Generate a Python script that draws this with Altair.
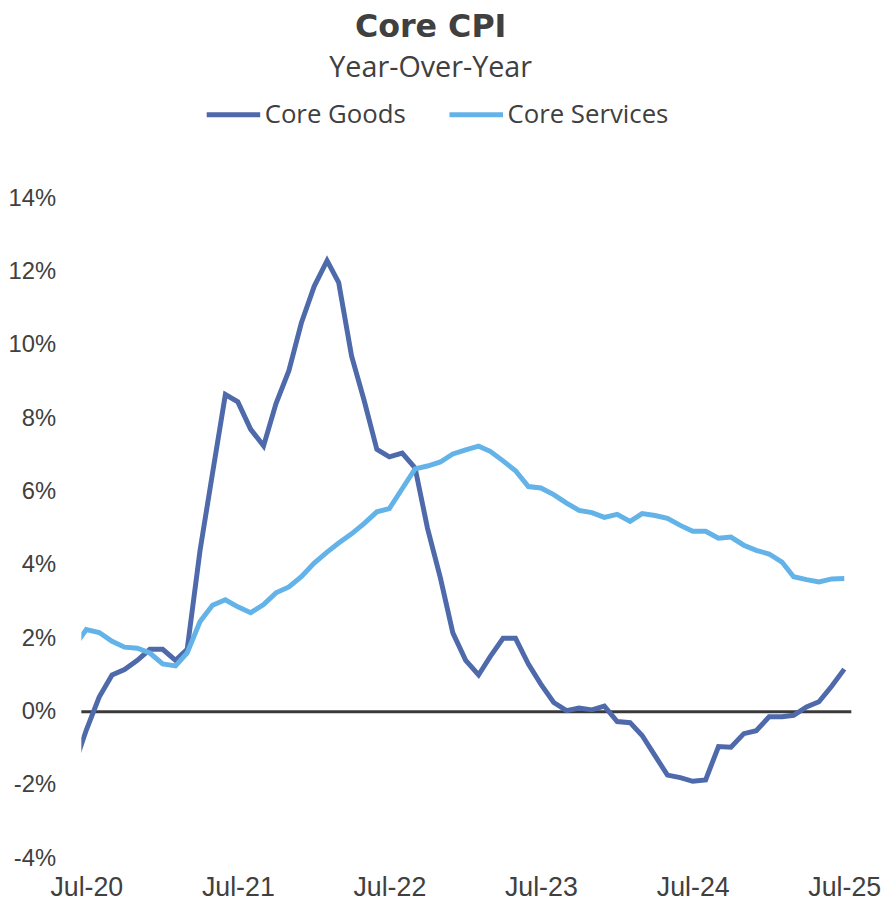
import altair as alt
import pandas as pd

# Monthly observations, Jun-2020 .. Jul-2025 (Jun-2020 is only partly visible at the left edge)
months = pd.date_range("2020-06-01", "2025-07-01", freq="MS").strftime("%Y-%m-%d").tolist()

core_goods = [
    -1.5,                                    # Jun-20
    -0.5, 0.4, 1.0, 1.15, 1.4, 1.7,          # Jul-Dec 20
    1.7, 1.4, 1.7, 4.4, 6.5, 8.65, 8.45, 7.7, 7.25, 8.4, 9.3, 10.6,      # 2021
    11.6, 12.3, 11.7, 9.7, 8.5, 7.15, 6.95, 7.05, 6.65, 5.0, 3.65, 2.15,  # 2022
    1.4, 1.0, 1.5, 2.0, 2.0, 1.3, 0.75, 0.25, 0.03, 0.1, 0.05, 0.15,     # 2023
    -0.27, -0.3, -0.65, -1.2, -1.73, -1.8, -1.9, -1.86, -0.95, -0.97, -0.6, -0.52,  # 2024
    -0.14, -0.14, -0.1, 0.13, 0.27, 0.7, 1.16,                          # 2025
]

core_services = [
    1.76,                                    # Jun-20
    2.24, 2.16, 1.92, 1.76, 1.73, 1.6,       # Jul-Dec 20
    1.3, 1.25, 1.6, 2.46, 2.9, 3.05, 2.86, 2.7, 2.92, 3.24, 3.4, 3.68,   # 2021
    4.05, 4.35, 4.6, 4.85, 5.13, 5.45, 5.54, 6.08, 6.62, 6.7, 6.81, 7.03,  # 2022
    7.14, 7.24, 7.1, 6.84, 6.57, 6.14, 6.1, 5.92, 5.69, 5.49, 5.43, 5.3,   # 2023
    5.38, 5.19, 5.4, 5.35, 5.27, 5.08, 4.92, 4.92, 4.73, 4.76, 4.54, 4.4,  # 2024
    4.3, 4.08, 3.68, 3.6, 3.54, 3.62, 3.63,                              # 2025
]

series_names = ["Core Goods", "Core Services"]
series_colors = ["#4E6AAB", "#63B3E8"]
y_ticks = [-4, -2, 0, 2, 4, 6, 8, 10, 12, 14]
x_tick_years = [2020, 2021, 2022, 2023, 2024, 2025]
zero_line = [0]

df = pd.DataFrame({
    "date": months + months,
    "value": core_goods + core_services,
    "series": [series_names[0]] * len(months) + [series_names[1]] * len(months),
})

TEXT = "#404040"
FONT = "Open Sans"
TITLE_FONT = "DejaVu Sans"
AXIS_FONT = "Liberation Sans"

x_scale = alt.Scale(
    type="utc",
    domain=[alt.DateTime(year=2020, month=6, date=19, utc=True),
            alt.DateTime(year=2025, month=7, date=18, utc=True)],
)
y_scale = alt.Scale(domain=[-4, 14], nice=False, zero=False)

zero = alt.Chart(pd.DataFrame({"zero": zero_line})).mark_rule(
    color="#3A3A3A", strokeWidth=3
).encode(y=alt.Y("zero:Q", scale=y_scale))

lines = alt.Chart(df).mark_line(strokeWidth=5, clip=True).encode(
    x=alt.X(
        "date:T",
        scale=x_scale,
        axis=alt.Axis(
            title=None,
            values=[alt.DateTime(year=y, month=7, date=1, utc=True) for y in x_tick_years],
            labelExpr="utcFormat(datum.value, '%b-%y')",
            domain=False, ticks=False, tickSize=0, grid=False,
            labelPadding=17,
            labelFontSize=27, labelFont=AXIS_FONT, labelColor=TEXT,
        ),
    ),
    y=alt.Y(
        "value:Q",
        scale=y_scale,
        axis=alt.Axis(
            title=None,
            values=y_ticks,
            labelExpr="datum.value + '%'",
            domain=False, ticks=False, tickSize=0, grid=False,
            labelPadding=26,
            labelFontSize=24, labelFont=AXIS_FONT, labelColor=TEXT,
        ),
    ),
    color=alt.Color(
        "series:N",
        scale=alt.Scale(domain=series_names, range=series_colors),
        legend=alt.Legend(
            orient="none", legendX=124, legendY=-114, direction="horizontal",
            title=None, symbolType="stroke", symbolSize=2916, symbolStrokeWidth=5,
            labelFontSize=26, labelFont=FONT, labelColor=TEXT, labelOffset=2,
            labelLimit=400, columnPadding=33,
        ),
    ),
)

chart = alt.layer(zero, lines).properties(
    width=777,
    height=666,
    autosize=alt.AutoSizeParams(type="none"),
    padding={"left": 74, "top": 188, "right": 36, "bottom": 40},
    title=alt.TitleParams(
        text="Core CPI",
        subtitle="Year-Over-Year",
        font=TITLE_FONT, fontSize=32, fontWeight="bold", color=TEXT,
        subtitleFont=FONT, subtitleFontSize=29, subtitleColor=TEXT,
        subtitlePadding=11,
        anchor="middle", dx=-36, offset=1,
    ),
).configure_view(stroke=None)

chart.save("out.html", embed_options={"renderer": "svg", "actions": False})
